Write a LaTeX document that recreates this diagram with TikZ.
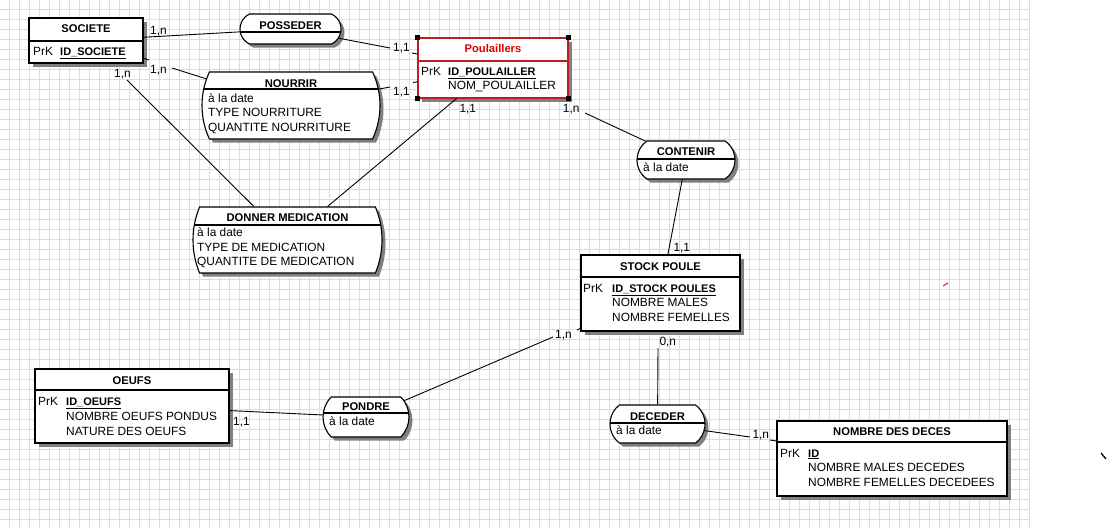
\documentclass[tikz,border=0pt]{standalone}
\usepackage{fontspec}
\setmainfont{Liberation Sans}
\usetikzlibrary{shapes.misc,shadows,calc}
\definecolor{gridc}{RGB}{220,220,220}
\definecolor{poulred}{RGB}{190,30,30}
\definecolor{titlered}{RGB}{222,0,0}
\begin{document}
\begin{tikzpicture}[x=1pt,y=-1pt,
  gridline/.style={draw=gridc,line width=0.7pt},
  shad/.style={drop shadow={shadow xshift=3.5pt,shadow yshift=-3.5pt,fill=black!50,opacity=1}},
  ent/.style={draw,fill=white,line width=1.1pt,rectangle,inner sep=0pt,shad},
  rel/.style={draw,fill=white,line width=1.1pt,rounded rectangle,inner sep=0pt,shad},
  sep/.style={path picture={\draw[line width=1.1pt,black] ([yshift=-#1]path picture bounding box.north west) -- ([yshift=-#1]path picture bounding box.north east);}},
  sepred/.style={path picture={\draw[line width=1.1pt,poulred] ([yshift=-#1]path picture bounding box.north west) -- ([yshift=-#1]path picture bounding box.north east);}},
  tx/.style={font=\fontsize{11.9}{14}\selectfont,inner sep=0pt,anchor=base west},
  tt/.style={font=\fontsize{11.2}{14}\selectfont\bfseries,inner sep=0pt,anchor=base},
  tk/.style={font=\fontsize{11}{14}\selectfont\bfseries,inner sep=0pt,anchor=base west},
  conn/.style={draw=black,line width=0.9pt},
  handle/.style={fill=black,minimum size=5pt,inner sep=0pt}
]
\useasboundingbox (0,0) rectangle (1108,528);
\fill[white] (0,0) rectangle (1108,528);
\foreach \i in {0,...,102} \draw[gridline] ({9.5+10*\i},0) -- ({9.5+10*\i},528);
\foreach \j in {0,...,51} \draw[gridline] (0,{9.5+10*\j}) -- (1030,{9.5+10*\j});

% entities and relationships
\node[ent,minimum width=114pt,minimum height=45pt,sep=23pt] (societe) at (86,40.5) {};
\node[rel,minimum width=101pt,minimum height=30pt,rounded rectangle arc length=130,sep=18pt] (posseder) at (290.5,29) {};
\node[ent,draw=poulred,minimum width=150pt,minimum height=60pt,sepred=23pt] (poul) at (493,68) {};
\node[rel,minimum width=178pt,minimum height=67pt,rounded rectangle arc length=50,sep=17pt] (nourrir) at (291,105.5) {};
\node[rel,minimum width=189pt,minimum height=66pt,rounded rectangle arc length=45,sep=18pt] (donner) at (287.5,240) {};
\node[rel,minimum width=98pt,minimum height=38pt,rounded rectangle arc length=110,sep=18pt] (contenir) at (686,160) {};
\node[ent,minimum width=159pt,minimum height=76pt,sep=22pt] (stock) at (660.5,293) {};
\node[ent,minimum width=194pt,minimum height=74pt,sep=21pt] (oeufs) at (132,406) {};
\node[rel,minimum width=86pt,minimum height=40pt,rounded rectangle arc length=90,sep=16pt] (pondre) at (366,417) {};
\node[rel,minimum width=95pt,minimum height=38pt,rounded rectangle arc length=105,sep=18pt] (deceder) at (657.5,424) {};
\node[ent,minimum width=230pt,minimum height=75pt,sep=21pt] (nombre) at (892,458.5) {};

% selection handles
\node[handle] (h1) at (poul.north west) {};
\node[handle] (h2) at (poul.north east) {};
\node[handle] (h3) at (poul.south west) {};
\node[handle] (h4) at (poul.south east) {};

% texts
\node[tt] (s0) at (86,32.5) {SOCIETE};
\node[tx] (s1) at (33,55) {PrK};
\node[tk] (s2) at (60,55) {\underline{ID\_SOCIETE}};

\node[tt] (p0) at (290.5,29) {POSSEDER};

\node[tt,text=titlered] (q0) at (493,52.5) {Poulaillers};
\node[tx] (q1) at (421,75) {PrK};
\node[tk] (q2) at (448,75) {\underline{ID\_POULAILLER}};
\node[tx] (q3) at (448,89.5) {NOM\_POULAILLER};

\node[tt] (n0) at (291,87) {NOURRIR};
\node[tx] (n1) at (208,102.7) {à la date};
\node[tx] (n2) at (208,116.7) {TYPE NOURRITURE};
\node[tx] (n3) at (208,131.5) {QUANTITE NOURRITURE};

\node[tt] (d0) at (287.5,221) {DONNER MEDICATION};
\node[tx] (d1) at (197,236) {à la date};
\node[tx] (d2) at (197,251) {TYPE DE MEDICATION};
\node[tx] (d3) at (197,265.7) {QUANTITE DE MEDICATION};

\node[tt] (c0) at (686,155.5) {CONTENIR};
\node[tx] (c1) at (643,171) {à la date};

\node[tt] (k0) at (660.5,270) {STOCK POULE};
\node[tx] (k1) at (583,292) {PrK};
\node[tk] (k2) at (612,292) {\underline{ID\_STOCK POULES}};
\node[tx] (k3) at (612,306.7) {NOMBRE MALES};
\node[tx] (k4) at (612,321.7) {NOMBRE FEMELLES};

\node[tt] (o0) at (132,384) {OEUFS};
\node[tx] (o1) at (38,405) {PrK};
\node[tk] (o2) at (66,405) {\underline{ID\_OEUFS}};
\node[tx] (o3) at (66,420.5) {NOMBRE OEUFS PONDUS};
\node[tx] (o4) at (66,435) {NATURE DES OEUFS};

\node[tt] (r0) at (366,410) {PONDRE};
\node[tx] (r1) at (329,425) {à la date};

\node[tt] (e0) at (657.5,420) {DECEDER};
\node[tx] (e1) at (616,434) {à la date};

\node[tt] (m0) at (892,435) {NOMBRE DES DECES};
\node[tx] (m1) at (780,457) {PrK};
\node[tk] (m2) at (808,457) {\underline{ID}};
\node[tx] (m3) at (808,471.7) {NOMBRE MALES DECEDES};
\node[tx] (m4) at (808,486.7) {NOMBRE FEMELLES DECEDEES};

% cardinalities
\node[tx] (l1) at (150,34) {1,n};
\node[tx] (l2) at (393,51) {1,1};
\node[tx] (l3) at (150,73) {1,n};
\node[tx] (l4) at (393,95) {1,1};
\node[tx] (l5) at (114,77.7) {1,n};
\node[tx] (l6) at (459.3,112.7) {1,1};
\node[tx] (l7) at (562.7,112.7) {1,n};
\node[tx] (l8) at (673.3,251) {1,1};
\node[tx] (l9) at (555,338.3) {1,n};
\node[tx] (l10) at (659.3,345) {0,n};
\node[tx] (l11) at (233,425) {1,1};
\node[tx] (l12) at (752.3,438.3) {1,n};

% connector free ends
\coordinate (k2a) at (390,48);
\coordinate (k2b) at (412,53);
\coordinate (k3a) at (149,60);
\coordinate (k3b) at (172,68);
\coordinate (k4a) at (390,87);
\coordinate (k4b) at (413,82.5);
\coordinate (k5) at (127,80);
\coordinate (k7) at (585,113);
\coordinate (k9a) at (577,330);
\coordinate (k9b) at (553,337);
\coordinate (k10) at (658,348);
\coordinate (k12a) at (750,437);
\coordinate (k12b) at (770,440);

% connectors
\draw[conn] (societe) -- (posseder);
\draw[conn] (posseder) -- (k2a);
\draw[conn] (k2b) -- (poul);
\draw[conn] (societe) -- (k3a);
\draw[conn] (k3b) -- (nourrir);
\draw[conn] (nourrir) -- (k4a);
\draw[conn] (k4b) -- (poul);
\draw[conn] (k5) -- (donner);
\draw[conn] (poul) -- (donner);
\draw[conn] (k7) -- (contenir);
\draw[conn] (contenir) -- (stock);
\draw[conn] (stock) -- (k9a);
\draw[conn] (k9b) -- (pondre);
\draw[conn] (k10) -- (deceder);
\draw[conn] (oeufs) -- (pondre);
\draw[conn] (deceder) -- (k12a);
\draw[conn] (k12b) -- (nombre);

% stray marks
\draw[red,line width=1pt] (943,286) -- (948,283);
\draw[black,line width=1.3pt] (1101,453) -- (1106,459);
\end{tikzpicture}
\end{document}
